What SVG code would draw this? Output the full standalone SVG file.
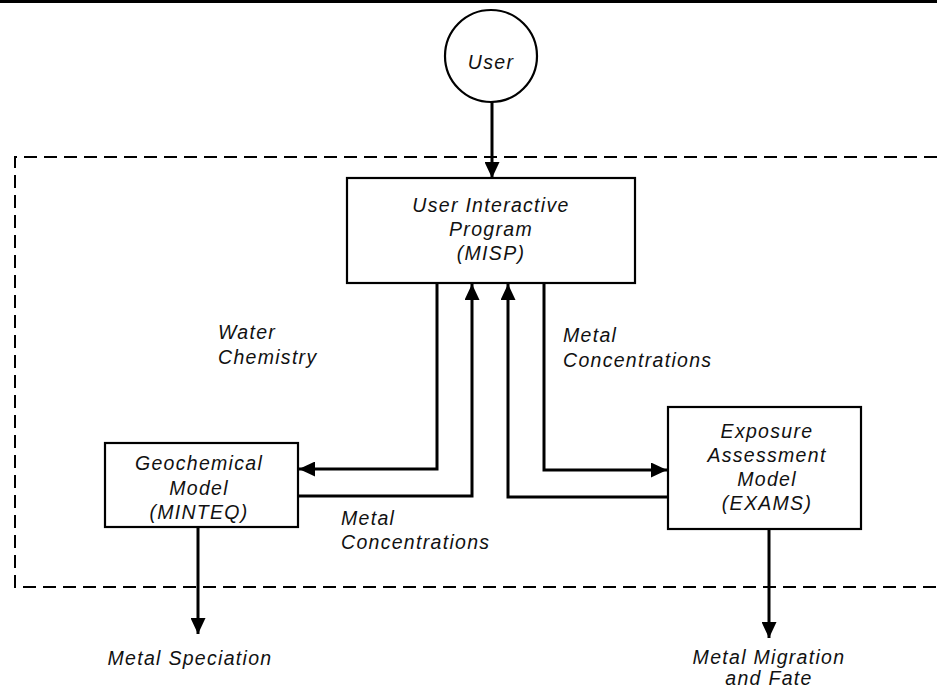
<svg xmlns="http://www.w3.org/2000/svg" width="937" height="690" viewBox="0 0 937 690">
<style>
.box{fill:#fff;stroke:#000;stroke-width:2.2}
.t{font-family:"Liberation Sans",Arial,sans-serif;font-style:italic;font-size:19.5px;letter-spacing:1.3px;fill:#111}
.c{text-anchor:middle}
.ln{fill:none;stroke:#000;stroke-width:3}
</style>
<defs>
<marker id="ah" markerUnits="userSpaceOnUse" markerWidth="17" markerHeight="15" refX="16" refY="7.5" orient="auto">
<path d="M0,0 L16,7.5 L0,15 z" fill="#000"/>
</marker>
</defs>
<rect x="0" y="0" width="937" height="3" fill="#000"/>
<path d="M937,157 H15 V587 H937" fill="none" stroke="#000" stroke-width="2" stroke-dasharray="13 7"/>
<g id="connectors">
<path class="ln" d="M492,102 V178" marker-end="url(#ah)"/>
<path class="ln" d="M437,283 V469 H299" marker-end="url(#ah)"/>
<path class="ln" d="M299,496 H472 V284" marker-end="url(#ah)"/>
<path class="ln" d="M668,497 H508 V284" marker-end="url(#ah)"/>
<path class="ln" d="M544,283 V470 H667" marker-end="url(#ah)"/>
<path class="ln" d="M198,527 V634" marker-end="url(#ah)"/>
<path class="ln" d="M769,529 V638" marker-end="url(#ah)"/>
</g>
<g id="user">
<circle class="box" cx="491" cy="56" r="46" stroke-width="2.5"/>
<text class="t c" x="491" y="69">User</text>
</g>
<g id="misp">
<rect class="box" x="347" y="178" width="288" height="105"/>
<text class="t c" x="491" y="212">User Interactive</text>
<text class="t c" x="491" y="236">Program</text>
<text class="t c" x="491" y="260">(MISP)</text>
</g>
<g id="minteq">
<rect class="box" x="105" y="443" width="193" height="84"/>
<text class="t c" x="199" y="470">Geochemical</text>
<text class="t c" x="199" y="495">Model</text>
<text class="t c" x="199" y="519">(MINTEQ)</text>
</g>
<g id="exams">
<rect class="box" x="668" y="407" width="193" height="122"/>
<text class="t c" x="767" y="438">Exposure</text>
<text class="t c" x="767" y="462">Assessment</text>
<text class="t c" x="767" y="486">Model</text>
<text class="t c" x="767" y="510">(EXAMS)</text>
</g>
<g id="labels">
<text class="t" x="218" y="339">Water</text>
<text class="t" x="218" y="364">Chemistry</text>
<text class="t" x="563" y="342">Metal</text>
<text class="t" x="563" y="367">Concentrations</text>
<text class="t" x="341" y="525">Metal</text>
<text class="t" x="341" y="549">Concentrations</text>
<text class="t c" x="190" y="665">Metal Speciation</text>
<text class="t c" x="769" y="664">Metal Migration</text>
<text class="t c" x="769" y="685">and Fate</text>
</g>
</svg>
